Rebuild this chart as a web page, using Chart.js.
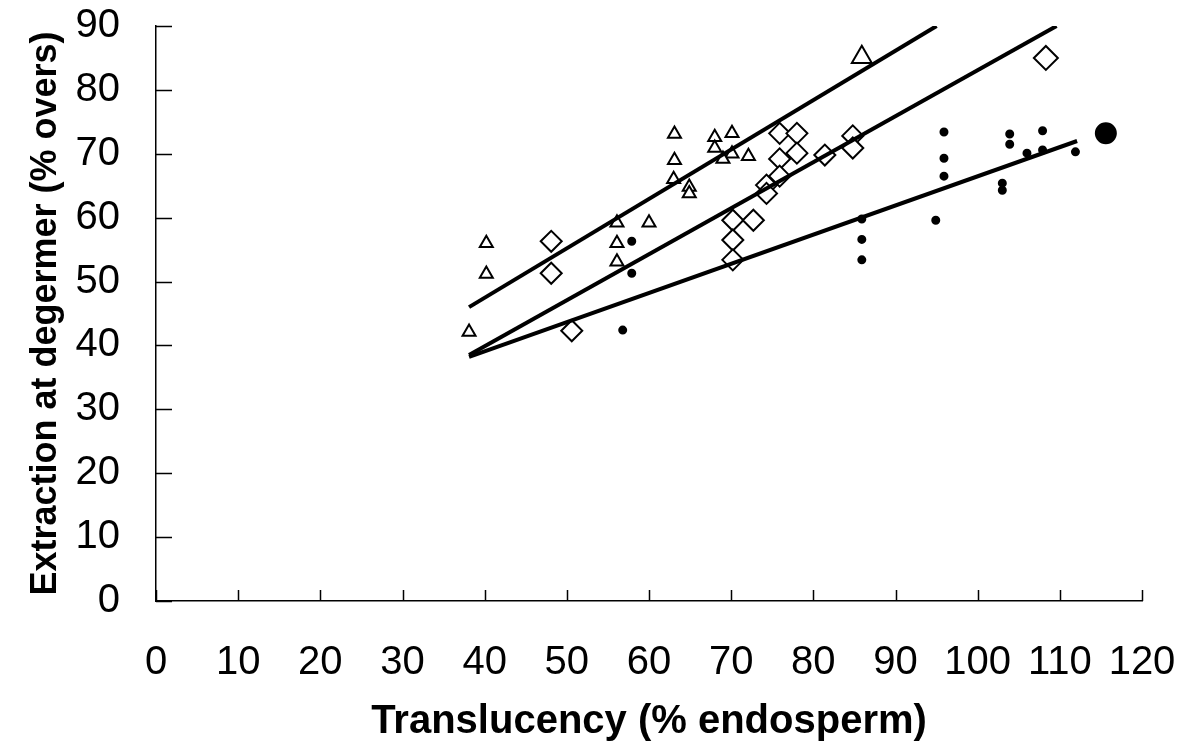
<!DOCTYPE html>
<html>
<head>
<meta charset="utf-8">
<script src="https://cdn.jsdelivr.net/npm/chart.js@4.4.1/dist/chart.umd.min.js"></script>
<style>
  body { margin: 0; background: #fff; }
  canvas { display: block; }
</style>
</head>
<body>
<canvas id="chart1" width="1185" height="747"></canvas>
<script>
// values
var tri_x = [38.1, 40.2, 40.2, 56.1, 56.1, 56.1, 60.0, 63.1, 63.1, 63.0, 64.9, 64.9, 68.0, 68.0, 70.1, 70.1, 69.0, 72.1]
var tri_y = [42.1, 51.2, 56.0, 59.2, 56.0, 53.1, 59.2, 73.1, 69.0, 66.0, 64.8, 63.8, 72.6, 70.9, 73.2, 70.0, 69.2, 69.6]
var tri_big_x = [85.9]
var tri_big_y = [85.1]

var dia_x = [48.1, 48.1, 50.6, 70.2, 72.7, 70.2, 70.2, 74.3, 74.3, 75.9, 78.0, 75.9, 78.0, 75.9, 81.4, 84.8, 84.8]
var dia_y = [56.3, 51.3, 42.3, 59.6, 59.6, 56.5, 53.4, 65.1, 63.8, 73.2, 73.2, 69.2, 70.1, 66.5, 69.8, 72.8, 70.9]
var dia_big_x = [108.3]
var dia_big_y = [85.0]

var dot_x = [56.8, 57.9, 57.9, 85.9, 85.9, 85.9, 94.9, 95.9, 95.9, 95.9, 103.0, 103.0, 103.9, 103.9, 106.0, 107.9, 107.9, 111.9]
var dot_y = [42.4, 56.3, 51.3, 59.8, 56.6, 53.4, 59.6, 73.4, 69.3, 66.5, 65.4, 64.3, 73.1, 71.5, 70.1, 73.6, 70.6, 70.3]
var dot_big_x = [115.6]
var dot_big_y = [73.2]

// fitted lines, end points
var tri_fit_x = [38.1, 95.0]
var tri_fit_y = [46.0, 90]
var dia_fit_x = [38.1, 109.6]
var dia_fit_y = [38.5, 90]
var dot_fit_x = [38.1, 112.1]
var dot_fit_y = [38.2, 72.0]

var x_ticks = [0, 10, 20, 30, 40, 50, 60, 70, 80, 90, 100, 110, 120]
var y_ticks = [0, 10, 20, 30, 40, 50, 60, 70, 80, 90]

function to_points(xs, ys){
    points = []
    xs.forEach((x, i) => {
        points.push({x: x, y: ys[i]})
    })
    return points
}

function marker_set(xs, ys, style, radius, filled){
    return {
        data: to_points(xs, ys),
        pointStyle: style,
        pointRadius: radius,
        pointBorderWidth: 2,
        pointBorderColor: "#000",
        pointBackgroundColor: filled ? "#000" : "#fff",
        showLine: false
    }
}

function fit_set(xs, ys){
    return {
        data: to_points(xs, ys),
        showLine: true,
        borderColor: "#000",
        borderWidth: 4,
        pointRadius: 0
    }
}

// tick marks drawn inside the plot, like the original
const inside_ticks = {
    id: "inside_ticks",
    afterDraw(chart){
        var ctx = chart.ctx
        var area = chart.chartArea
        var xs = chart.scales.x
        var ys = chart.scales.y
        ctx.save()
        ctx.strokeStyle = "#000"
        ctx.lineWidth = 1.5
        ctx.beginPath()
        xs.ticks.forEach(t => {
            var px = Math.round(xs.getPixelForValue(t.value)) + 0.5
            ctx.moveTo(px, area.bottom)
            ctx.lineTo(px, area.bottom - 11)
        })
        ys.ticks.forEach(t => {
            var py = Math.round(ys.getPixelForValue(t.value)) + 0.5
            ctx.moveTo(area.left, py)
            ctx.lineTo(area.left + 16, py)
        })
        ctx.stroke()
        ctx.restore()
    }
}

var font_name = "'Liberation Sans', Arial, sans-serif"

new Chart(document.getElementById("chart1"), {
    type: "scatter",
    data: {
        datasets: [
            fit_set(tri_fit_x, tri_fit_y),
            fit_set(dia_fit_x, dia_fit_y),
            fit_set(dot_fit_x, dot_fit_y),
            marker_set(tri_x, tri_y, "triangle", 7.5, false),
            marker_set(tri_big_x, tri_big_y, "triangle", 11.5, false),
            marker_set(dia_x, dia_y, "rectRot", 10.5, false),
            marker_set(dia_big_x, dia_big_y, "rectRot", 12, false),
            marker_set(dot_x, dot_y, "circle", 3.5, true),
            marker_set(dot_big_x, dot_big_y, "circle", 10, true)
        ]
    },
    options: {
        responsive: false,
        animation: false,
        layout: {padding: {left: 10, top: 26, right: 43, bottom: 1}},
        scales: {
            x: {
                type: "linear",
                min: 0,
                max: 120,
                afterBuildTicks: (scale) => { scale.ticks = x_ticks.map(v => ({value: v})) },
                afterFit: (scale) => {
                    scale.height = 145
                    scale.paddingLeft = 0
                    scale.paddingRight = 0
                },
                grid: {display: false, drawTicks: false},
                border: {display: true, color: "#000", width: 1.5},
                ticks: {
                    color: "#000",
                    padding: 38,
                    maxRotation: 0,
                    font: {family: font_name, size: 40}
                },
                title: {
                    display: true,
                    text: "Translucency (% endosperm)",
                    color: "#000",
                    padding: {top: 0, bottom: 0},
                    font: {family: font_name, size: 40, weight: "bold"}
                }
            },
            y: {
                type: "linear",
                min: 0,
                max: 90,
                afterBuildTicks: (scale) => { scale.ticks = y_ticks.map(v => ({value: v})) },
                afterFit: (scale) => {
                    scale.width = 146
                    scale.paddingTop = 0
                    scale.paddingBottom = 0
                },
                grid: {display: false, drawTicks: false},
                border: {display: true, color: "#000", width: 1.5},
                ticks: {
                    color: "#000",
                    padding: 36,
                    font: {family: font_name, size: 40}
                },
                title: {
                    display: true,
                    text: "Extraction at degermer (% overs)",
                    color: "#000",
                    padding: {top: 14, bottom: 10},
                    font: {family: font_name, size: 36, weight: "bold"}
                }
            }
        },
        plugins: {
            legend: {display: false},
            tooltip: {enabled: false}
        }
    },
    plugins: [inside_ticks]
})
</script>
</body>
</html>
